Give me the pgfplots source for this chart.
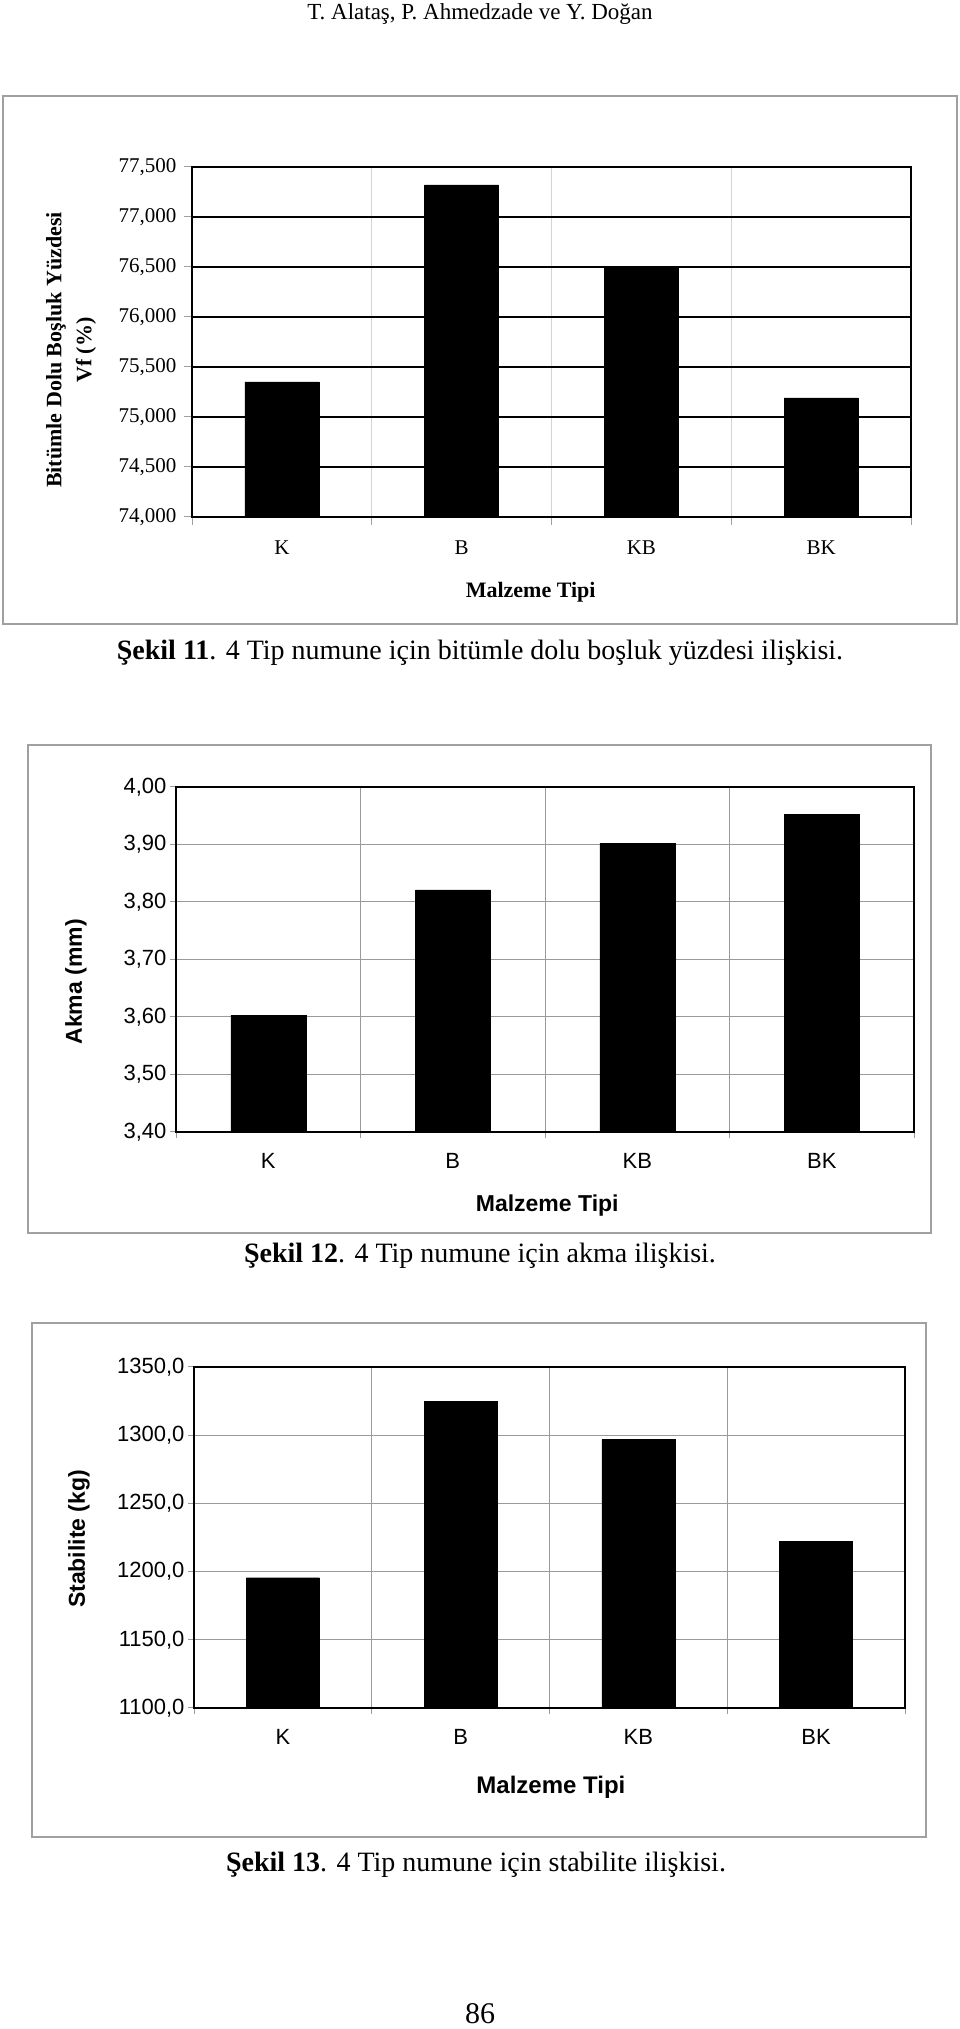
\documentclass[border=0pt]{standalone}
\usepackage{fontspec}
\setmainfont{Liberation Serif}
\setsansfont{Liberation Sans}
\usepackage{pgfplots}
\pgfplotsset{compat=1.18}
\definecolor{framegray}{HTML}{A0A0A0}
\definecolor{gridgray}{HTML}{9A9A9A}
\definecolor{lightgrid}{HTML}{D4D4D4}
\newcommand{\fs}[1]{\fontsize{#1}{#1}\selectfont}
\pgfplotsset{
  barchart/.style={
    scale only axis, anchor=south west,
    xmin=-0.5, xmax=3.5,
    xtick={-0.5,0.5,1.5,2.5,3.5},
    xticklabels={K,B,KB,BK},
    x tick label as interval=true,
    enlargelimits=false,
    tick align=outside,
    tick pos=left,
    major tick length=8pt,
    xmajorgrids=true, ymajorgrids=true,
    ybar, bar width=74pt,
    /pgf/number format/assume math mode=true,
    /pgf/number format/use comma,
    /pgf/number format/fixed,
    /pgf/number format/fixed zerofill,
    /pgf/number format/1000 sep={},
    ylabel style={anchor=center},
    xlabel style={anchor=center},
  }
}
\begin{document}
\begin{tikzpicture}
\useasboundingbox (0pt,0pt) rectangle (960pt,2029pt);
% header
\node[font=\rmfamily\fs{23}] at (480pt,2015pt) {T. Alataş, P. Ahmedzade ve Y. Doğan};
% frames
\draw[framegray, line width=1.5pt] (3pt,1933pt) rectangle (957pt,1405pt);
\draw[framegray, line width=1.5pt] (28pt,1284pt) rectangle (931pt,796pt);
\draw[framegray, line width=1.5pt] (32pt,706pt) rectangle (926pt,192pt);
% captions
\node[font=\rmfamily\fs{28}] at (480pt,1376pt) {\textbf{Şekil 11}. 4 Tip numune için bitümle dolu boşluk yüzdesi ilişkisi.};
\node[font=\rmfamily\fs{28}] at (480pt,773pt) {\textbf{Şekil 12}. 4 Tip numune için akma ilişkisi.};
\node[font=\rmfamily\fs{28}] at (476pt,164pt) {\textbf{Şekil 13}. 4 Tip numune için stabilite ilişkisi.};
\node[font=\rmfamily\fs{30}] at (480pt,15pt) {86};

% Chart 1
\begin{axis}[barchart,
  at={(192pt,1512pt)}, width=719pt, height=350pt,
  ymin=74, ymax=77.5, ytick={74,74.5,75,75.5,76,76.5,77,77.5},
  /pgf/number format/precision=3,
  axis line style={black, line width=2.5pt},
  y grid style={black, line width=2pt},
  x grid style={lightgrid, line width=1pt},
  tick style={framegray, line width=1pt},
  tick label style={font=\rmfamily\fs{21}},
  yticklabel style={xshift=-4pt},
  xticklabel style={yshift=-12pt},
  xlabel={Malzeme Tipi},
  xlabel style={font=\rmfamily\bfseries\fs{22}, at={(axis description cs:0.471,-0.214)}},
  ylabel={Bitümle Dolu Boşluk Yüzdesi\\Vf (\%)},
  ylabel style={font=\rmfamily\bfseries\fontsize{22}{30}\selectfont, align=center, at={(axis description cs:-0.168,0.477)}},
]
\addplot[fill=black, draw=black] coordinates {(0,75.35) (1,77.32) (2,76.50) (3,75.19)};
\end{axis}

% Chart 2
\begin{axis}[barchart,
  at={(176pt,897pt)}, width=738pt, height=345pt,
  ymin=3.4, ymax=4.0, ytick={3.4,3.5,3.6,3.7,3.8,3.9,4.0},
  /pgf/number format/precision=2,
  bar width=75pt,
  axis line style={black, line width=2pt},
  grid style={gridgray, line width=1pt},
  tick style={gridgray, line width=1pt},
  major tick length=6pt,
  tick label style={font=\sffamily\fs{22}},
  xticklabel style={yshift=-12pt},
  xlabel={Malzeme Tipi},
  xlabel style={font=\sffamily\bfseries\fs{23}, at={(axis description cs:0.503,-0.2145)}},
  ylabel={Akma (mm)},
  ylabel style={font=\sffamily\bfseries\fs{23}, at={(axis description cs:-0.1355,0.435)}},
]
\addplot[fill=black, draw=black] coordinates {(0,3.603) (1,3.821) (2,3.902) (3,3.953)};
\end{axis}

% Chart 3
\begin{axis}[barchart,
  at={(194pt,321pt)}, width=711pt, height=341pt,
  ymin=1100, ymax=1350, ytick={1100,1150,1200,1250,1300,1350},
  /pgf/number format/precision=1,
  bar width=73pt,
  axis line style={black, line width=2pt},
  grid style={gridgray, line width=1pt},
  tick style={gridgray, line width=1pt},
  major tick length=6pt,
  tick label style={font=\sffamily\fs{22}},
  xticklabel style={yshift=-12pt},
  xlabel={Malzeme Tipi},
  xlabel style={font=\sffamily\bfseries\fs{24}, at={(axis description cs:0.502,-0.2317)}},
  ylabel={Stabilite (kg)},
  ylabel style={font=\sffamily\bfseries\fs{23}, at={(axis description cs:-0.1617,0.496)}},
]
\addplot[fill=black, draw=black] coordinates {(0,1195.5) (1,1325) (2,1297) (3,1222)};
\end{axis}
\end{tikzpicture}
\end{document}
